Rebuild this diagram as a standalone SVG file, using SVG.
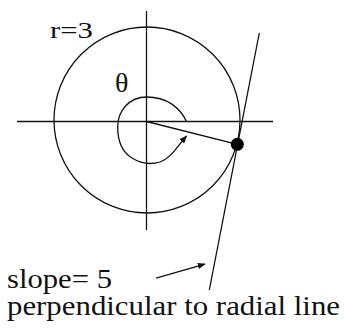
<svg xmlns="http://www.w3.org/2000/svg" width="347" height="328" viewBox="0 0 347 328">
<defs>
<style>
.ln{stroke:#111;stroke-width:1.3;fill:none}
.tx{fill:#111}
</style>
<marker id="ah" viewBox="0 0 10 10" refX="9" refY="5" markerWidth="8" markerHeight="8" markerUnits="userSpaceOnUse" orient="auto">
<path d="M0,1 L10,5 L0,9 Z" fill="#111"/>
</marker>
</defs>
<rect width="347" height="328" fill="#fff"/>
<g id="axes">
<line class="ln" x1="146.5" y1="11" x2="146.5" y2="230"/>
<line class="ln" x1="17" y1="121.5" x2="273" y2="121.5"/>
</g>
<g id="circle">
<circle class="ln" cx="147" cy="120" r="93" stroke-width="1.2"/>
</g>
<g id="connectors">
<line class="ln" x1="146.5" y1="121.5" x2="237.3" y2="144.3" stroke-width="1.8"/>
<line class="ln" x1="259.3" y1="33" x2="209.3" y2="290" stroke-width="1.2"/>
<path class="ln" d="M186.7,122 C180,107 166,97 147,97 C128,97 118,112 117.7,126 C117.5,141 122,152 132,158 C140,163 150,165 160,162 C171,158 176,148 186.5,136" marker-end="url(#ah)"/>
<line class="ln" x1="156" y1="278" x2="205" y2="264" marker-end="url(#ah)"/>
</g>
<g id="point">
<circle cx="237.3" cy="144.3" r="6.5" fill="#000"/>
</g>
<g id="labels" font-family="'Liberation Serif', 'DejaVu Serif', 'Times New Roman', serif">
<text class="tx" x="50" y="37.7" font-size="24" textLength="43" lengthAdjust="spacingAndGlyphs">r=3</text>
<text class="tx" x="115" y="91.7" font-size="28">θ</text>
<text class="tx" x="7" y="287.5" font-size="27" textLength="105" lengthAdjust="spacingAndGlyphs">slope= 5</text>
<text class="tx" x="7" y="315" font-size="27" textLength="333" lengthAdjust="spacingAndGlyphs">perpendicular to radial line</text>
</g>
</svg>
